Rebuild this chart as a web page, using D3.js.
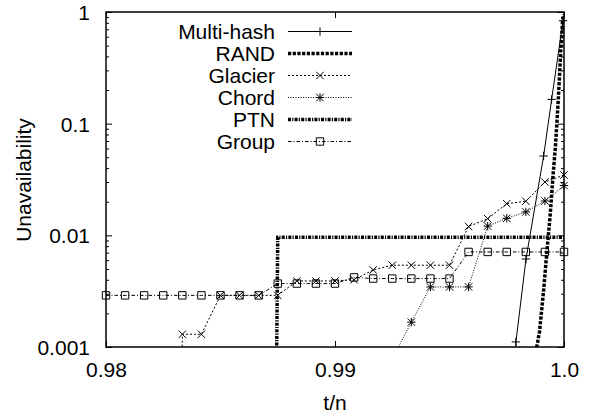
<!DOCTYPE html>
<html>
<head>
<meta charset="utf-8">
<script src="https://cdn.jsdelivr.net/npm/d3@7"></script>
<style>
  body { margin: 0; background: #fff; }
  text { font-family: "Liberation Sans", Arial, sans-serif; }
</style>
</head>
<body>
<script>
// sample points t/n (step 1/1200)
var tn = [0.980000, 0.980833, 0.981667, 0.982500, 0.983333, 0.984167, 0.985000,
          0.985833, 0.986667, 0.987500, 0.988333, 0.989167, 0.990000, 0.990833,
          0.991667, 0.992500, 0.993333, 0.994167, 0.995000, 0.995833, 0.996667,
          0.997500, 0.998333, 0.999167, 1.000000];

// unavailability per series (0 = nothing measured, drawn off the bottom)
var glacier = [0, 0, 0, 0, 0.0013, 0.0013, 0.0029, 0.0029, 0.0029, 0.0029,
               0.0039, 0.0039, 0.0039, 0.0040, 0.0049, 0.0054, 0.0054, 0.0054,
               0.0054, 0.0120, 0.0141, 0.0192, 0.0202, 0.0300, 0.0347];
var chord = [0, 0, 0, 0, 0, 0, 0, 0, 0, 0, 0, 0, 0, 0, 0, 0.00078, 0.00167,
             0.00345, 0.00345, 0.00345, 0.0121, 0.0142, 0.0162, 0.0203, 0.0279];
var ptn = [0, 0, 0, 0, 0, 0, 0, 0, 0, 0.0096, 0.0096, 0.0096, 0.0096, 0.0096,
           0.0096, 0.0096, 0.0096, 0.0096, 0.0096, 0.0096, 0.0096, 0.0096,
           0.0096, 0.0096, 0.0096];
var group = [0.0029, 0.0029, 0.0029, 0.0029, 0.0029, 0.0029, 0.0029, 0.0029,
             0.0029, 0.0037, 0.0037, 0.0037, 0.0037, 0.0042, 0.0041, 0.0041,
             0.0041, 0.0041, 0.0041, 0.0071, 0.0071, 0.0071, 0.0071, 0.0071, 0.0071];

// multi-hash and RAND are sampled at their own t/n points
var multiX = [0.99750, 0.99790, 0.99834, 0.99911, 0.99946, 0.99996];
var multiY = [0, 0.00111, 0.00614, 0.0513, 0.165, 0.836];
var randX = [0.99877, 0.99893, 0.99910, 0.99926, 0.99939, 0.99952, 0.99963,
             0.99975, 0.99986, 0.99994, 0.99998];
var randY = [0.0009, 0.00137, 0.00305, 0.0074, 0.0146, 0.034, 0.0644,
             0.163, 0.457, 0.848, 0.95];

var xTicks = [0.98, 0.99, 1.0], xTickLabels = ["0.98", "0.99", "1.0"];
var yTicks = [1, 0.1, 0.01, 0.001], yTickLabels = ["1", "0.1", "0.01", "0.001"];

var margin = {top: 12, right: 26, bottom: 68, left: 106},
    width = 458,
    height = 335;
var fontSize = 21;

var x = d3.scaleLinear().domain([0.98, 1.0]).range([0, width]);
var y = d3.scaleLog().domain([0.001, 1]).range([height, 0]);
// zero values sit far below the axis so their lines drop straight down
function yv(v) { return y(Math.max(v, 1e-20)); }

var svg = d3.select("body").append("svg")
    .attr("width", width + margin.left + margin.right)
    .attr("height", height + margin.top + margin.bottom);
var g = svg.append("g")
    .attr("transform", "translate(" + margin.left + "," + margin.top + ")");

g.append("clipPath").attr("id", "plot")
  .append("rect").attr("width", width).attr("height", height);

function zip(xs, ys) { return xs.map(function(d, i) { return [d, ys[i]]; }); }

var series = [
  {name: "Multi-hash", data: zip(multiX, multiY), width: 1, dash: null, marker: "plus"},
  {name: "RAND", data: zip(randX, randY), width: 3.5, dash: "3.2,1.5", marker: null},
  {name: "Glacier", data: zip(tn, glacier), width: 1, dash: "2,2", marker: "cross"},
  {name: "Chord", data: zip(tn, chord), width: 1, dash: "1,1.5", marker: "star"},
  {name: "PTN", data: zip(tn, ptn), width: 3.5, dash: "3,1.2,1.2,1.2", marker: null},
  {name: "Group", data: zip(tn, group), width: 1, dash: "3.5,2,1,2", marker: "square"}
];

var line = d3.line()
    .x(function(d) { return x(d[0]); })
    .y(function(d) { return yv(d[1]); });

function drawMarker(sel, type, cx, cy) {
  var s = 3.7;
  var p = "";
  if (type === "plus" || type === "star")
    p += "M" + (cx - s - 0.5) + "," + cy + "H" + (cx + s + 0.5) + "M" + cx + "," + (cy - s - 0.5) + "V" + (cy + s + 0.5);
  if (type === "cross" || type === "star")
    p += "M" + (cx - s) + "," + (cy - s) + "L" + (cx + s) + "," + (cy + s) +
         "M" + (cx - s) + "," + (cy + s) + "L" + (cx + s) + "," + (cy - s);
  if (type === "square")
    p += "M" + (cx - s) + "," + (cy - s) + "h" + 2 * s + "v" + 2 * s + "h" + -2 * s + "Z";
  sel.append("path").attr("d", p)
     .attr("fill", "none").attr("stroke", "#000").attr("stroke-width", 1);
}

// frame
g.append("rect").attr("width", width).attr("height", height)
  .attr("fill", "none").attr("stroke", "#000").attr("stroke-width", 1.5);

// axes (ticks point inward, mirrored on top and right)
var minor = y.ticks().filter(function(d) { return yTicks.indexOf(d) < 0; });

var left = g.append("g")
    .call(d3.axisLeft(y).tickValues(yTicks).tickSize(-6).tickPadding(16)
      .tickFormat(function(d, i) { return yTickLabels[i]; }));
left.selectAll("text").attr("dy", "0.35em");
g.append("g").call(d3.axisLeft(y).tickValues(minor).tickSize(-3).tickFormat(""));
g.append("g").attr("transform", "translate(" + width + ",0)")
    .call(d3.axisRight(y).tickValues(yTicks).tickSize(-6).tickFormat(""));
g.append("g").attr("transform", "translate(" + width + ",0)")
    .call(d3.axisRight(y).tickValues(minor).tickSize(-3).tickFormat(""));

g.append("g").attr("transform", "translate(0," + height + ")")
    .call(d3.axisBottom(x).tickValues(xTicks).tickSize(-6).tickPadding(15)
      .tickFormat(function(d, i) { return xTickLabels[i]; }));
g.append("g")
    .call(d3.axisTop(x).tickValues(xTicks).tickSize(-6).tickFormat(""));

g.selectAll(".domain").remove();
g.selectAll(".tick line").attr("stroke", "#000").attr("stroke-width", 1);
g.selectAll(".tick text").attr("font-size", fontSize).attr("fill", "#000")
  .attr("font-family", "Liberation Sans, Arial, sans-serif");

// series
series.forEach(function(s) {
  g.append("path")
    .datum(s.data)
    .attr("clip-path", "url(#plot)")
    .attr("fill", "none")
    .attr("stroke", "#000")
    .attr("stroke-width", s.width)
    .attr("stroke-dasharray", s.dash)
    .attr("d", line);
  if (s.marker) {
    s.data.forEach(function(d) {
      if (d[1] >= 0.001 && d[1] <= 1) drawMarker(g, s.marker, x(d[0]), y(d[1]));
    });
  }
});

// legend
var legend = svg.append("g");
series.forEach(function(s, i) {
  var ly = 31.5 + i * 22;
  legend.append("text")
    .attr("x", 275).attr("y", ly).attr("dy", "0.35em")
    .attr("text-anchor", "end").attr("font-size", fontSize)
    .text(s.name);
  legend.append("line")
    .attr("x1", 288).attr("x2", 352).attr("y1", ly).attr("y2", ly)
    .attr("stroke", "#000").attr("stroke-width", s.width)
    .attr("stroke-dasharray", s.dash);
  if (s.marker) drawMarker(legend, s.marker, 320, ly);
});

// axis titles
svg.append("text")
  .attr("x", margin.left + width / 2).attr("y", 410)
  .attr("text-anchor", "middle").attr("font-size", fontSize)
  .text("t/n");
svg.append("text")
  .attr("transform", "translate(31," + (margin.top + 168) + ") rotate(-90)")
  .attr("text-anchor", "middle").attr("font-size", fontSize)
  .text("Unavailability");
</script>
</body>
</html>
